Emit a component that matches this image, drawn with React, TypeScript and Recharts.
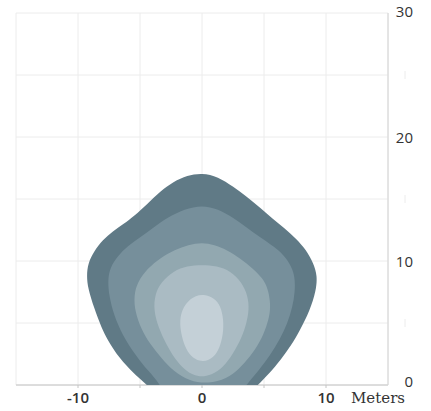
import React from "react";
import { ScatterChart, Scatter, XAxis, YAxis, CartesianGrid } from "recharts";

const xTicks = [-15, -10, -5, 0, 5, 10, 15];
const xLabelTicks = [-10, 0, 10];
const yTicks = [0, 5, 10, 15, 20, 25, 30];
const yLabelTicks = [0, 10, 20, 30];
const xUnitLabel = "Meters";

const contour1 = [
  { x: 0, y: 17.1 }, { x: 1.3, y: 16.8 }, { x: 2.5, y: 16.0 }, { x: 3.6, y: 15.2 },
  { x: 4.7, y: 14.3 }, { x: 5.7, y: 13.4 }, { x: 6.6, y: 12.7 }, { x: 7.6, y: 11.8 },
  { x: 8.4, y: 10.9 }, { x: 9.0, y: 9.8 }, { x: 9.3, y: 8.8 }, { x: 9.2, y: 7.6 },
  { x: 8.7, y: 6.0 }, { x: 7.9, y: 4.4 }, { x: 7.2, y: 3.2 }, { x: 6.4, y: 2.1 },
  { x: 5.4, y: 0.9 }, { x: 4.5, y: 0 }, { x: 3.5, y: -1 }, { x: 0, y: -1.8 },
  { x: -3.5, y: -1 }, { x: -4.4, y: 0 }, { x: -5.4, y: 0.8 }, { x: -6.2, y: 1.7 },
  { x: -6.9, y: 2.5 }, { x: -7.6, y: 3.6 }, { x: -8.1, y: 4.6 }, { x: -8.7, y: 6.2 },
  { x: -9.2, y: 7.8 }, { x: -9.3, y: 8.8 }, { x: -9.2, y: 9.8 }, { x: -8.7, y: 10.8 },
  { x: -8.0, y: 11.7 }, { x: -7.2, y: 12.4 }, { x: -6.3, y: 13.0 }, { x: -5.5, y: 13.6 },
  { x: -4.4, y: 14.6 }, { x: -3.4, y: 15.6 }, { x: -2.3, y: 16.4 }, { x: -1.2, y: 16.9 },
];

const contour2 = [
  { x: 0, y: 14.5 }, { x: 1.3, y: 14.2 }, { x: 2.5, y: 13.5 }, { x: 3.6, y: 12.7 },
  { x: 4.7, y: 11.9 }, { x: 5.6, y: 11.3 }, { x: 6.4, y: 10.7 }, { x: 7.1, y: 9.8 },
  { x: 7.5, y: 8.8 }, { x: 7.5, y: 7.5 }, { x: 7.3, y: 6.3 }, { x: 6.9, y: 5.0 },
  { x: 6.3, y: 3.7 }, { x: 5.5, y: 2.4 }, { x: 4.6, y: 1.2 }, { x: 3.8, y: 0.3 },
  { x: 3, y: -0.8 }, { x: 0, y: -1.3 }, { x: -3, y: -0.8 }, { x: -3.6, y: 0.4 },
  { x: -4.6, y: 1.4 }, { x: -5.5, y: 2.6 }, { x: -6.4, y: 4.0 }, { x: -7.1, y: 5.6 },
  { x: -7.5, y: 7.2 }, { x: -7.6, y: 8.5 }, { x: -7.4, y: 9.5 }, { x: -6.8, y: 10.4 },
  { x: -6.0, y: 11.2 }, { x: -5.0, y: 11.9 }, { x: -3.9, y: 12.7 }, { x: -2.8, y: 13.5 },
  { x: -1.4, y: 14.2 },
];

const contour3 = [
  { x: 0, y: 11.5 }, { x: 1.0, y: 11.3 }, { x: 2.0, y: 10.9 }, { x: 3.1, y: 10.2 },
  { x: 4.1, y: 9.4 }, { x: 4.9, y: 8.6 }, { x: 5.3, y: 7.8 }, { x: 5.5, y: 6.8 },
  { x: 5.5, y: 5.8 }, { x: 5.2, y: 4.7 }, { x: 4.7, y: 3.5 }, { x: 3.9, y: 2.3 },
  { x: 3.0, y: 1.3 }, { x: 2.0, y: 0.5 }, { x: 0.5, y: 0.1 }, { x: -1.0, y: 0.3 },
  { x: -2.3, y: 1.1 }, { x: -3.3, y: 2.2 }, { x: -4.2, y: 3.3 }, { x: -4.9, y: 4.5 },
  { x: -5.4, y: 5.9 }, { x: -5.5, y: 7.2 }, { x: -5.2, y: 8.3 }, { x: -4.4, y: 9.4 },
  { x: -3.3, y: 10.3 }, { x: -2.2, y: 10.9 }, { x: -1.1, y: 11.3 },
];

const contour4 = [
  { x: 0, y: 9.7 }, { x: 1.2, y: 9.6 }, { x: 2.3, y: 9.2 }, { x: 3.2, y: 8.3 },
  { x: 3.7, y: 7.2 }, { x: 3.8, y: 6.1 }, { x: 3.6, y: 5.0 }, { x: 3.2, y: 3.8 },
  { x: 2.5, y: 2.5 }, { x: 1.7, y: 1.4 }, { x: 0.8, y: 0.8 }, { x: -0.3, y: 0.6 },
  { x: -1.3, y: 1.1 }, { x: -2.2, y: 2.1 }, { x: -2.9, y: 3.3 }, { x: -3.5, y: 4.6 },
  { x: -3.9, y: 6.0 }, { x: -3.8, y: 7.3 }, { x: -3.3, y: 8.3 }, { x: -2.3, y: 9.2 },
  { x: -1.2, y: 9.6 },
];

const contour5 = [
  { x: 0.1, y: 7.3 }, { x: 0.8, y: 7.1 }, { x: 1.4, y: 6.6 }, { x: 1.7, y: 5.6 },
  { x: 1.75, y: 4.4 }, { x: 1.5, y: 3.2 }, { x: 1.1, y: 2.4 }, { x: 0.5, y: 1.95 },
  { x: -0.2, y: 1.9 }, { x: -0.9, y: 2.3 }, { x: -1.4, y: 3.1 }, { x: -1.7, y: 4.2 },
  { x: -1.8, y: 5.2 }, { x: -1.6, y: 6.1 }, { x: -1.1, y: 6.8 }, { x: -0.5, y: 7.2 },
];

const contours = [
  { name: "c1", data: contour1, color: "#607a86" },
  { name: "c2", data: contour2, color: "#768f9b" },
  { name: "c3", data: contour3, color: "#92a8b0" },
  { name: "c4", data: contour4, color: "#aabbc3" },
  { name: "c5", data: contour5, color: "#c4d0d7" },
];

const XTick = (props: any) => {
  const { x, y, payload } = props;
  const v = payload.value;
  return (
    <g>
      {Math.abs(v) < 15 && <line x1={x} x2={x} y1={y} y2={y + 3} stroke="#c4c4c4" />}
      {v === 15 && (
        <text x={x + 17} y={y + 18} textAnchor="end" fontFamily="DejaVu Serif" fontSize={15} fill="#333">
          {xUnitLabel}
        </text>
      )}
      {xLabelTicks.includes(v) && (
        <text
          x={x}
          y={y + 18}
          textAnchor="middle"
          fontFamily="Open Sans"
          fontSize={15}
          fontWeight={600}
          fill="#333"
        >
          {v}
        </text>
      )}
    </g>
  );
};

const YTick = (props: any) => {
  const { x, y, payload } = props;
  const v = payload.value;
  if (!yLabelTicks.includes(v)) {
    return <line x1={x + 17} x2={x + 17} y1={y - 4} y2={y + 4} stroke="#ececec" />;
  }
  const dy = v === 0 ? 1.5 : v === 30 ? 4 : 5.5;
  return (
    <text
      x={x + 25}
      y={y + dy}
      textAnchor="end"
      fontFamily="Open Sans"
      fontSize={15}
      fontWeight={500}
      fill="#333"
    >
      {v}
    </text>
  );
};

export default function App() {
  return (
    <div style={{ position: "absolute", left: 0, top: 0 }}>
      <ScatterChart width={431} height={411} margin={{ top: 13, right: 8, bottom: 0, left: 16 }}>
        <CartesianGrid stroke="#ececec" />
        <XAxis
          type="number"
          dataKey="x"
          domain={[-15, 15]}
          ticks={xTicks}
          allowDataOverflow
          height={26}
          tickSize={0}
          tickMargin={0}
          tickLine={false}
          axisLine={{ stroke: "#c4c4c4" }}
          tick={<XTick />}
          interval={0}
        />
        <YAxis
          type="number"
          dataKey="y"
          orientation="right"
          domain={[0, 30]}
          ticks={yTicks}
          allowDataOverflow
          width={35}
          tickSize={0}
          tickMargin={0}
          tickLine={false}
          axisLine={{ stroke: "#d4d4d4" }}
          tick={<YTick />}
          interval={0}
        />
        {contours.map((c) => (
          <Scatter
            key={c.name}
            name={c.name}
            data={c.data}
            fill={c.color}
            line={{ fill: c.color, stroke: "none" }}
            lineType="joint"
            lineJointType="basisClosed"
            shape={() => <g />}
            isAnimationActive={false}
          />
        ))}
      </ScatterChart>
    </div>
  );
}
